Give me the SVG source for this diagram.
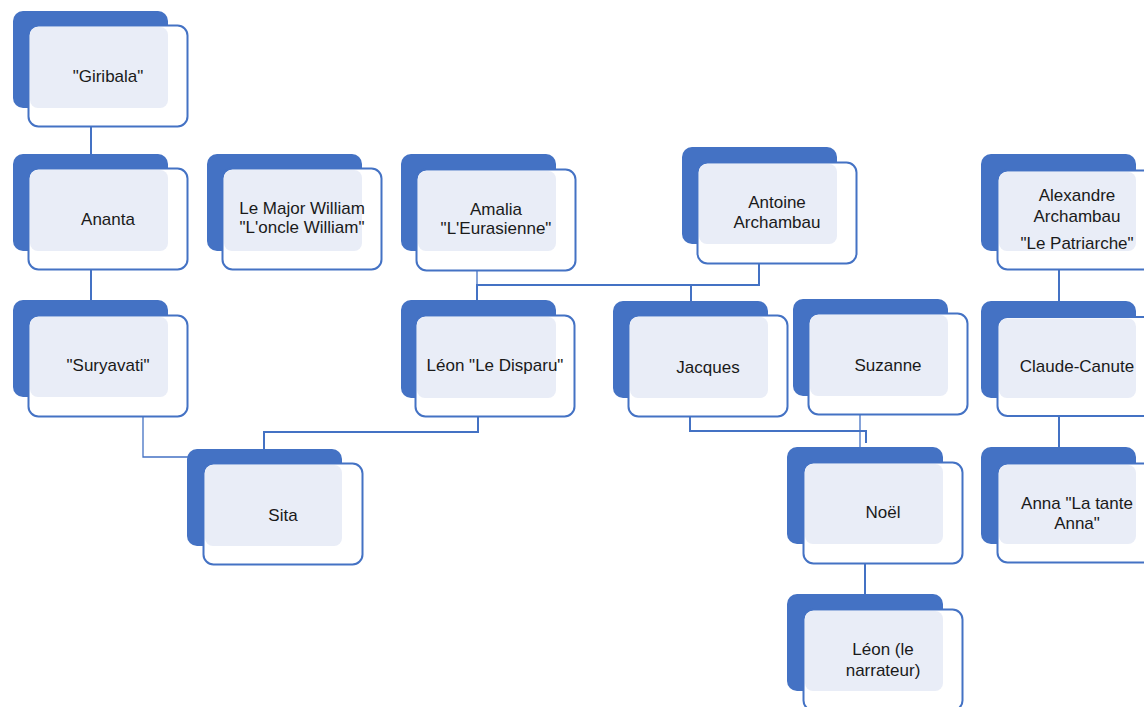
<svg xmlns="http://www.w3.org/2000/svg" width="1144" height="707" viewBox="0 0 1144 707">
<defs>
<style>
.back{fill:#4472C4}
.frame{fill:#FFFFFF;stroke:#4472C4;stroke-width:2}
.face{fill:#E9EDF7}
.lbl{font-family:"Liberation Sans",Arial,sans-serif;font-size:17px;fill:#1A1A1A;text-anchor:middle}
.con{fill:none;stroke:#4472C4;stroke-width:2}
.thin{fill:none;stroke:#4472C4;stroke-width:1.3}
.faint{fill:none;stroke:#C9D3EC;stroke-width:2}
</style>
</defs>
<rect width="1144" height="707" fill="#FFFFFF"/>

<g id="connectors">
<path class="faint" d="M91 110V126M91 253V268M759 247V262M478 399V415M690 400V416M865 546V562M1059 253V268M1059 400V415"/>
<path class="con" d="M91 127V154"/>
<path class="con" d="M91 269V300"/>
<path class="thin" d="M143 416V457H188"/>
<path class="con" d="M478 416V432H264V449"/>
<path class="thin" d="M477 271V285"/>
<path class="con" d="M759 263V285H477V300"/>
<path class="con" d="M691 285V301"/>
<path class="con" d="M690 417V431H866V443"/>
<path class="thin" d="M860 415V447"/>
<path class="con" d="M865 563V594"/>
<path class="con" d="M1059 269V301"/>
<path class="con" d="M1059 416V447"/>
</g>

<g id="giribala">
<rect class="back" x="13" y="11" width="155" height="97" rx="10"/>
<rect class="frame" x="28.5" y="25.5" width="159" height="101" rx="10"/>
<rect class="face" x="30" y="27" width="138" height="81" rx="8"/>
<text class="lbl" x="108" y="82">"Giribala"</text>
</g>

<g id="ananta">
<rect class="back" x="13" y="154" width="155" height="97" rx="10"/>
<rect class="frame" x="28.5" y="168.5" width="159" height="101" rx="10"/>
<rect class="face" x="30" y="170" width="138" height="81" rx="8"/>
<text class="lbl" x="108" y="225">Ananta</text>
</g>

<g id="major-william">
<rect class="back" x="207" y="154" width="155" height="97" rx="10"/>
<rect class="frame" x="222.5" y="168.5" width="159" height="101" rx="10"/>
<rect class="face" x="224" y="170" width="138" height="81" rx="8"/>
<text class="lbl" x="302" y="214">Le Major William</text>
<text class="lbl" x="302" y="233">"L'oncle William"</text>
</g>

<g id="suryavati">
<rect class="back" x="13" y="300" width="155" height="97" rx="10"/>
<rect class="frame" x="28.5" y="315.5" width="159" height="101" rx="10"/>
<rect class="face" x="30" y="317" width="138" height="80" rx="8"/>
<text class="lbl" x="108" y="371">"Suryavati"</text>
</g>

<g id="sita">
<rect class="back" x="187" y="449" width="155" height="97" rx="10"/>
<rect class="frame" x="203.5" y="463.5" width="159" height="101" rx="10"/>
<rect class="face" x="205" y="465" width="137" height="81" rx="8"/>
<text class="lbl" x="283" y="521">Sita</text>
</g>

<g id="amalia">
<rect class="back" x="401" y="154" width="155" height="97" rx="10"/>
<rect class="frame" x="416.5" y="169.5" width="159" height="101" rx="10"/>
<rect class="face" x="418" y="171" width="138" height="80" rx="8"/>
<text class="lbl" x="496" y="215">Amalia</text>
<text class="lbl" x="496" y="234">"L'Eurasienne"</text>
</g>

<g id="antoine">
<rect class="back" x="682" y="147" width="155" height="97" rx="10"/>
<rect class="frame" x="697.5" y="162.5" width="159" height="101" rx="10"/>
<rect class="face" x="699" y="164" width="138" height="80" rx="8"/>
<text class="lbl" x="777" y="208">Antoine</text>
<text class="lbl" x="777" y="228">Archambau</text>
</g>

<g id="leon-disparu">
<rect class="back" x="401" y="300" width="155" height="98" rx="10"/>
<rect class="frame" x="415.5" y="315.5" width="159" height="101" rx="10"/>
<rect class="face" x="417" y="317" width="139" height="81" rx="8"/>
<text class="lbl" x="495" y="371">Léon "Le Disparu"</text>
</g>

<g id="jacques">
<rect class="back" x="613" y="301" width="155" height="97" rx="10"/>
<rect class="frame" x="628.5" y="315.5" width="159" height="101" rx="10"/>
<rect class="face" x="630" y="317" width="138" height="81" rx="8"/>
<text class="lbl" x="708" y="373">Jacques</text>
</g>

<g id="suzanne">
<rect class="back" x="793" y="299" width="155" height="97" rx="10"/>
<rect class="frame" x="808.5" y="313.5" width="159" height="101" rx="10"/>
<rect class="face" x="810" y="315" width="138" height="81" rx="8"/>
<text class="lbl" x="888" y="371">Suzanne</text>
</g>

<g id="noel">
<rect class="back" x="787" y="447" width="156" height="97" rx="10"/>
<rect class="frame" x="803.5" y="462.5" width="159" height="101" rx="10"/>
<rect class="face" x="805" y="464" width="138" height="80" rx="8"/>
<text class="lbl" x="883" y="518">Noël</text>
</g>

<g id="leon-narrateur">
<rect class="back" x="787" y="594" width="156" height="97" rx="10"/>
<rect class="frame" x="803.5" y="609.5" width="159" height="101" rx="10"/>
<rect class="face" x="805" y="611" width="138" height="80" rx="8"/>
<text class="lbl" x="883" y="655">Léon (le</text>
<text class="lbl" x="883" y="676">narrateur)</text>
</g>

<g id="alexandre">
<rect class="back" x="981" y="154" width="155" height="97" rx="10"/>
<rect class="frame" x="997.5" y="170.5" width="159" height="99" rx="10"/>
<rect class="face" x="999" y="172" width="137" height="79" rx="8"/>
<text class="lbl" x="1077" y="201">Alexandre</text>
<text class="lbl" x="1077" y="222">Archambau</text>
<text class="lbl" x="1077" y="249">"Le Patriarche"</text>
</g>

<g id="claude-canute">
<rect class="back" x="981" y="301" width="155" height="97" rx="10"/>
<rect class="frame" x="997.5" y="317" width="159" height="99" rx="10"/>
<rect class="face" x="999" y="318.5" width="137" height="79.5" rx="8"/>
<text class="lbl" x="1077" y="372">Claude-Canute</text>
</g>

<g id="anna">
<rect class="back" x="981" y="447" width="155" height="97" rx="10"/>
<rect class="frame" x="997.5" y="463.5" width="159" height="99" rx="10"/>
<rect class="face" x="999" y="465" width="137" height="79" rx="8"/>
<text class="lbl" x="1077" y="509">Anna "La tante</text>
<text class="lbl" x="1077" y="529">Anna"</text>
</g>
</svg>
